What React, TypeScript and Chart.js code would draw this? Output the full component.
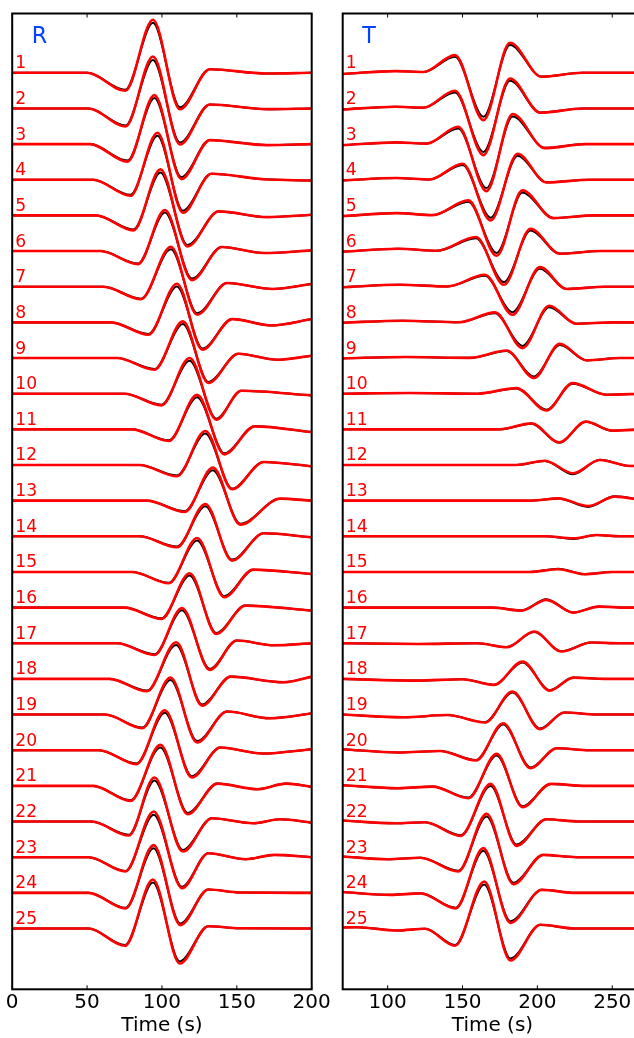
import React, { useEffect, useRef } from 'react';
import { Chart, registerables } from 'chart.js';

Chart.register(...registerables);

// ---------- shared ----------
const TRACE_LABELS = ['1', '2', '3', '4', '5', '6', '7', '8', '9', '10', '11', '12', '13', '14', '15', '16', '17', '18', '19', '20', '21', '22', '23', '24', '25'];
const SPACING = 35.65; // vertical offset between traces (amplitude units)
const X_TITLE = 'Time (s)';

// ---------- R panel (radial) : key points of each trace ----------
const R_TICKS = [0, 50, 100, 150, 200];
const R_TIMES: number[][] = [
  [0, 50, 75.5, 94, 112, 132, 170, 200],
  [0, 51, 75.7, 94, 112, 132, 170, 200],
  [0, 52, 77, 95, 113, 132, 170, 200],
  [0, 54, 79, 97, 114, 133, 168, 200],
  [0, 56, 81, 99, 117, 138, 170, 200],
  [0, 59, 84, 102, 120, 140, 168, 200],
  [0, 61, 86, 106, 123.5, 143.5, 174, 200],
  [0, 66, 91, 110, 127, 147, 173, 200],
  [0, 70, 95, 114, 131, 151, 177, 200],
  [0, 75, 99.7, 118.5, 136.3, 153, 200],
  [0, 80, 104.6, 123.5, 141.7, 162, 200],
  [0, 85, 110, 129, 146.8, 168, 200],
  [0, 90, 115.2, 134, 152.3, 179, 200],
  [0, 85, 110, 129, 146.8, 168, 200],
  [0, 80, 104.6, 123.5, 141.7, 161, 200],
  [0, 75, 99.7, 118.5, 136.3, 155.7, 200],
  [0, 70, 95, 113.4, 131.9, 150, 175, 200],
  [0, 65, 90, 109.5, 126.8, 146, 181, 200],
  [0, 62, 86.8, 105.7, 123.5, 143.5, 172, 200],
  [0, 58, 83, 101.9, 120, 139, 167, 200],
  [0, 54, 79, 99, 117.2, 137, 163.5, 183, 200],
  [0, 53, 77.9, 95, 114, 133.4, 161, 179, 200],
  [0, 51, 75.7, 94.5, 113.4, 131, 156, 175, 200],
  [0, 51, 75.7, 94.4, 112.3, 131, 152, 200],
  [0, 51, 75.3, 94, 111.9, 131, 152, 200],
];
const R_RED: number[][] = [
  [0, 0, -18, 53, -36.5, 3.5, -0.7, 0],
  [0, 0, -18, 52, -36, 4, -0.7, 0],
  [0, 0, -17.5, 49, -35, 4, -1, 0],
  [0, 0, -16, 47, -33, 6, 0.5, -0.7],
  [0, 0, -15, 46, -31, 4, -1.7, 0.7],
  [0, 0, -13, 41, -29, 4, -2, 0.7],
  [0, 0, -12.5, 40, -28, 3.7, -2.3, 2.7],
  [0, 0, -12.3, 38.7, -27.3, 3.3, -3, 3.3],
  [0, 0, -11.7, 36.7, -25, 4.3, -1.7, 2.3],
  [0, 0, -11.7, 35.7, -26, 3, -1.7],
  [0, 0, -11.7, 34.5, -25, 3, -2.7],
  [0, 0, -11.3, 34, -24.3, 3, -1.3],
  [0, 0, -11.3, 33, -24, 2, 0],
  [0, 0, -11, 32.3, -24.3, 3, -1],
  [0, 0, -11.3, 34, -25.3, 2.3, -2],
  [0, 0, -11.3, 34.3, -26.3, 2, -3],
  [0, 0, -11.7, 35.3, -26.7, 2.7, -2, 0],
  [0, 0, -12.3, 36.7, -26.7, 2.3, -3.3, 2.3],
  [0, 0, -13.7, 37, -28, 3, -3.7, 1],
  [0, 0, -14, 40, -27.3, 2.7, -3.3, 1],
  [0, 0, -15, 41, -28.3, 2.3, -3.3, 2.3, -1],
  [0, 0, -14, 44, -30, 3.3, -1.7, 2.3, -1],
  [0, 0, -14.3, 45.7, -31, 4, -2, 2.3, 0],
  [0, 0, -15.7, 47.7, -32.3, 3.3, 0.3, 0],
  [0, 0, -17.3, 49, -35, 2.3, 0.3, 0],
];
const R_BLACK: number[][] = [
  [0, 0, -17, 50, -34.5, 3.5, -0.7, 0],
  [0, 0, -17, 48.5, -34, 4, -0.7, 0],
  [0, 0, -16.5, 46, -33, 4, -1, 0],
  [0, 0, -15, 44, -31, 6, 0.5, -0.7],
  [0, 0, -14, 43, -29.5, 4, -1.7, 0.7],
  [0, 0, -12.5, 38.5, -27.5, 4, -2, 0.7],
  [0, 0, -12, 37.5, -26.5, 3.7, -2.3, 2.7],
  [0, 0, -11.5, 36, -26, 3.3, -3, 3.3],
  [0, 0, -11, 34, -24, 4.3, -1.7, 2.3],
  [0, 0, -11, 33, -25, 3, -1.7],
  [0, 0, -11, 32, -24, 3, -2.7],
  [0, 0, -10.5, 31.5, -23.5, 3, -1.3],
  [0, 0, -10.5, 30.5, -23, 2, 0],
  [0, 0, -10.3, 30, -23.3, 3, -1],
  [0, 0, -10.7, 31.5, -24.3, 2.3, -2],
  [0, 0, -10.7, 32, -25.3, 2, -3],
  [0, 0, -11, 33, -25.5, 2.7, -2, 0],
  [0, 0, -11.7, 34, -25.5, 2.3, -3.3, 2.3],
  [0, 0, -13, 34.5, -26.5, 3, -3.7, 1],
  [0, 0, -13.3, 37.5, -26, 2.7, -3.3, 1],
  [0, 0, -14.3, 38.5, -27, 2.3, -3.3, 2.3, -1],
  [0, 0, -13.3, 41, -28.5, 3.3, -1.7, 2.3, -1],
  [0, 0, -13.7, 42.5, -29.5, 4, -2, 2.3, 0],
  [0, 0, -15, 44.5, -30.7, 3.3, 0.3, 0],
  [0, 0, -16.5, 46, -33, 2.3, 0.3, 0],
];

// ---------- T panel (transverse) : key points of each trace ----------
const T_TICKS = [100, 150, 200, 250];
const T_TIMES: number[][] = [
  [70, 105, 124, 145, 164, 181.7, 202.8, 230, 270],
  [70, 105, 124, 145, 164, 181.7, 202, 230, 270],
  [70, 106, 126, 147.2, 166, 183.5, 205, 232, 270],
  [70, 106, 128, 150.1, 168.8, 186.8, 206, 235, 270],
  [70, 106, 130, 153.9, 172.8, 190, 210.6, 238, 270],
  [70, 107, 133, 159, 177.7, 195.4, 215, 242, 270],
  [70, 108, 140, 165, 183.4, 201.7, 219.5, 245, 270],
  [70, 110, 148, 171.7, 190.1, 207.9, 226, 250, 270],
  [70, 112, 155, 179.5, 197.7, 215, 232.8, 255, 270],
  [70, 115, 160, 186, 206.1, 223.5, 246, 270],
  [70, 175, 196, 214.6, 232.3, 250, 270],
  [70, 186, 205, 223.9, 241.7, 262, 270],
  [70, 196, 213.9, 233.9, 251.7, 270],
  [70, 205, 224, 239.5, 255, 270],
  [70, 195, 214, 231.7, 250, 270],
  [70, 170, 189.4, 206, 223.9, 241, 260, 270],
  [70, 120, 160, 179.5, 197.9, 216, 236, 255, 270],
  [70, 119.5, 150, 171, 190.1, 208.3, 224, 245, 270],
  [70, 110.5, 140, 165, 183.4, 201.7, 218, 240, 270],
  [70, 107, 135, 159, 177.2, 195.4, 213, 235, 270],
  [70, 107, 130, 153.9, 172.8, 190.1, 209, 232, 270],
  [70, 105, 125, 148.8, 168.8, 186.1, 206, 228, 270],
  [70, 100, 122, 147.2, 166.1, 184, 204, 226, 270],
  [70, 102, 122, 145.5, 163.9, 182, 203, 225, 270],
  [70, 80, 106, 125, 145, 164.5, 182, 202, 225, 270],
];
const T_RED: number[][] = [
  [-1.2, 1.7, 0.8, 17.7, -47.3, 30, -4, 0, 0],
  [-1, 1.7, 0.8, 17.7, -46.7, 30, -4.3, 0, 0],
  [-1, 1.7, 0.5, 17.3, -47, 30, -4, 0, 0],
  [-0.7, 1.7, 0.3, 16, -40.7, 26, -2.7, 0, 0],
  [-0.7, 2.3, 0.3, 15, -40.4, 25, -2.7, 0, 0],
  [-0.5, 2.3, 0.3, 14, -33.7, 22.3, -2.7, 0, 0],
  [-0.5, 2, 0.3, 12, -28, 19.6, -2.3, 0, 0],
  [-0.3, 1.7, 0.2, 10, -25.7, 16.6, -1.3, 0, 0],
  [-0.3, 1, 0.2, 7.5, -20, 14.2, -2.3, 0, 0],
  [0, 0.7, 0, 5.6, -16.8, 10.6, -1, 0],
  [0, 0, 6, -13, 7.7, -1.3, 0],
  [0, 0, 4.3, -8.3, 5, -1, -0.8],
  [0, 0, 2.3, -5.3, 4, 0.5],
  [0, 0, -2, 1.3, 0, 0],
  [0, 0, 2.7, -2.3, 0, 0],
  [0, 0, -3, 7.7, -5, 1, 0, 0],
  [0, -0.7, 0, -4, 11.7, -8.3, 0.7, 0, 0],
  [0, -1.7, -0.3, -6, 17.3, -11.7, 1.3, 0, 0],
  [0, -2.7, -0.5, -8, 23, -14.7, 2, 0, 0],
  [1, -2.3, -0.7, -10.3, 27, -18, 2, 0, 0],
  [0.7, -2.3, -0.7, -12.3, 32, -21.3, 2, 0, 0],
  [1, -1.7, -0.7, -14.3, 37.7, -24.3, 2.3, 0, 0],
  [0.7, -2, -0.5, -14.3, 43.3, -27, 2.3, 0, 0],
  [0.8, -2, -0.5, -15.5, 44.7, -30, 3, 0, 0],
  [1, 1.3, -2, -0.3, -17.3, 47, -32, 3.7, 0, 0],
];
const T_BLACK: number[][] = [
  [-1.2, 1.7, 0.8, 16, -44, 27.7, -3.7, 0, 0],
  [-1, 1.7, 0.8, 16, -43.5, 27.7, -4, 0, 0],
  [-1, 1.7, 0.5, 15.7, -44, 27.5, -3.7, 0, 0],
  [-0.7, 1.7, 0.3, 14.7, -38, 24, -2.5, 0, 0],
  [-0.7, 2.3, 0.3, 13.7, -37.5, 23, -2.5, 0, 0],
  [-0.5, 2.3, 0.3, 12.8, -31, 20.5, -2.5, 0, 0],
  [-0.5, 2, 0.3, 11, -25.5, 18, -2.2, 0, 0],
  [-0.3, 1.7, 0.2, 9.2, -23.5, 15.2, -1.3, 0, 0],
  [-0.3, 1, 0.2, 7, -18.5, 13, -2.2, 0, 0],
  [0, 0.7, 0, 5.3, -16, 10, -1, 0],
  [0, 0, 5.7, -13.5, 7.5, -1.3, 0],
  [0, 0, 4, -9.3, 5.3, -1, -0.8],
  [0, 0, 2.2, -6.3, 4.3, 0.5],
  [0, 0, -2.6, 1.3, 0, 0],
  [0, 0, 3.3, -2.2, 0, 0],
  [0, 0, -2.8, 8.3, -4.8, 1, 0, 0],
  [0, -0.7, 0, -3.8, 11.2, -8, 0.7, 0, 0],
  [0, -1.7, -0.3, -5.8, 16.5, -11.2, 1.3, 0, 0],
  [0, -2.7, -0.5, -7.6, 22, -14, 2, 0, 0],
  [1, -2.3, -0.7, -9.8, 25.8, -17.2, 2, 0, 0],
  [0.7, -2.3, -0.7, -11.7, 30.5, -20.3, 2, 0, 0],
  [1, -1.7, -0.7, -13.6, 35.5, -23, 2.3, 0, 0],
  [0.7, -2, -0.5, -13.6, 40.8, -25.5, 2.3, 0, 0],
  [0.8, -2, -0.5, -14.8, 42, -28.3, 3, 0, 0],
  [1, 1.3, -2, -0.3, -16.5, 44, -30, 3.7, 0, 0],
];

const FONT = '"DejaVu Sans", "Liberation Sans", sans-serif';

type PanelProps = {
  times: number[][];
  red: number[][];
  black: number[][];
  ticks: number[];
  xMin: number;
  xMax: number;
  title: string;
  left: number;
  width: number;
  padL: number;
  padR: number;
};

function Panel({ times, red, black, ticks, xMin, xMax, title, left, width, padL, padR }: PanelProps) {
  const ref = useRef<HTMLCanvasElement>(null);
  useEffect(() => {
    if (!ref.current) return;
    const datasets: any[] = [];
    // dataset 0 is painted last (on top): push last trace first
    for (let i = times.length - 1; i >= 0; i--) {
      const off = -(i + 1) * SPACING;
      datasets.push({
        data: times[i].map((t, j) => ({ x: t, y: red[i][j] + off })),
        borderColor: '#ff0000',
        borderWidth: 2.6,
      });
      datasets.push({
        data: times[i].map((t, j) => ({ x: t, y: black[i][j] + off })),
        borderColor: '#000000',
        borderWidth: 2,
      });
    }
    const yMax = -SPACING + 59.3;
    const yMin = -times.length * SPACING - 60.8;

    const framePlugin = {
      id: 'frame' + title,
      afterDraw(chart: any) {
        const { ctx, chartArea: a, scales } = chart;
        const xs = scales.x;
        const ys = scales.y;
        ctx.save();
        ctx.strokeStyle = '#000';
        ctx.lineWidth = 1;
        ctx.beginPath();
        for (const t of ticks) {
          const px = xs.getPixelForValue(t);
          ctx.moveTo(px, a.top);
          ctx.lineTo(px, a.top + 4);
          ctx.moveTo(px, a.bottom);
          ctx.lineTo(px, a.bottom - 4);
        }
        ctx.stroke();
        ctx.lineWidth = 2;
        ctx.strokeRect(a.left, a.top, a.right - a.left, a.bottom - a.top);
        ctx.fillStyle = '#ff0000';
        ctx.font = `17.2px ${FONT}`;
        ctx.textAlign = 'left';
        ctx.textBaseline = 'alphabetic';
        TRACE_LABELS.forEach((lab, i) => {
          const y = ys.getPixelForValue(-(i + 1) * SPACING);
          ctx.fillText(lab, a.left + 3, y - 4.5);
        });
        ctx.fillStyle = '#0044ff';
        ctx.font = `22.2px ${FONT}`;
        ctx.fillText(title, a.left + 19.5, a.top + 29.2);
        ctx.restore();
      },
    };

    const chart = new Chart(ref.current, {
      type: 'line',
      data: { datasets },
      options: {
        animation: false,
        responsive: false,
        devicePixelRatio: 1,
        events: [],
        layout: { padding: { left: padL, right: padR, top: 13.5, bottom: 0 } },
        elements: {
          point: { radius: 0 },
          line: {
            cubicInterpolationMode: 'monotone',
            fill: false,
            borderJoinStyle: 'round',
            borderCapStyle: 'round',
          },
        },
        plugins: { legend: { display: false }, tooltip: { enabled: false } },
        scales: {
          x: {
            type: 'linear',
            min: xMin,
            max: xMax,
            afterBuildTicks: (axis: any) => {
              axis.ticks = ticks.map((v) => ({ value: v }));
            },
            grid: { display: false, drawTicks: false },
            border: { display: false },
            ticks: {
              color: '#000',
              padding: 4.55,
              maxRotation: 0,
              autoSkip: false,
              font: { family: FONT, size: 20, lineHeight: 0.9 },
            },
            title: {
              display: true,
              text: X_TITLE,
              color: '#000',
              font: { family: FONT, size: 20, lineHeight: 0.9 },
              padding: { top: 0, bottom: 3.6 },
            },
          },
          y: {
            type: 'linear',
            display: false,
            min: yMin,
            max: yMax,
          },
        },
      },
      plugins: [framePlugin],
    } as any);
    return () => chart.destroy();
  }, []);
  return (
    <canvas
      ref={ref}
      width={width}
      height={1038}
      style={{ position: 'absolute', left, top: 0, width, height: 1038, display: 'block' }}
    />
  );
}

export default function App() {
  return (
    <div
      style={{
        position: 'absolute',
        left: 0,
        top: 0,
        width: 634,
        height: 1038,
        overflow: 'hidden',
        background: '#ffffff',
      }}
    >
      <Panel
        times={R_TIMES}
        red={R_RED}
        black={R_BLACK}
        ticks={R_TICKS}
        xMin={0}
        xMax={200}
        title="R"
        left={0}
        width={340}
        padL={12.2}
        padR={28.3}
      />
      <Panel
        times={T_TIMES}
        red={T_RED}
        black={T_BLACK}
        ticks={T_TICKS}
        xMin={70}
        xMax={270}
        title="T"
        left={327}
        width={340}
        padL={15.7}
        padR={24.8}
      />
    </div>
  );
}
